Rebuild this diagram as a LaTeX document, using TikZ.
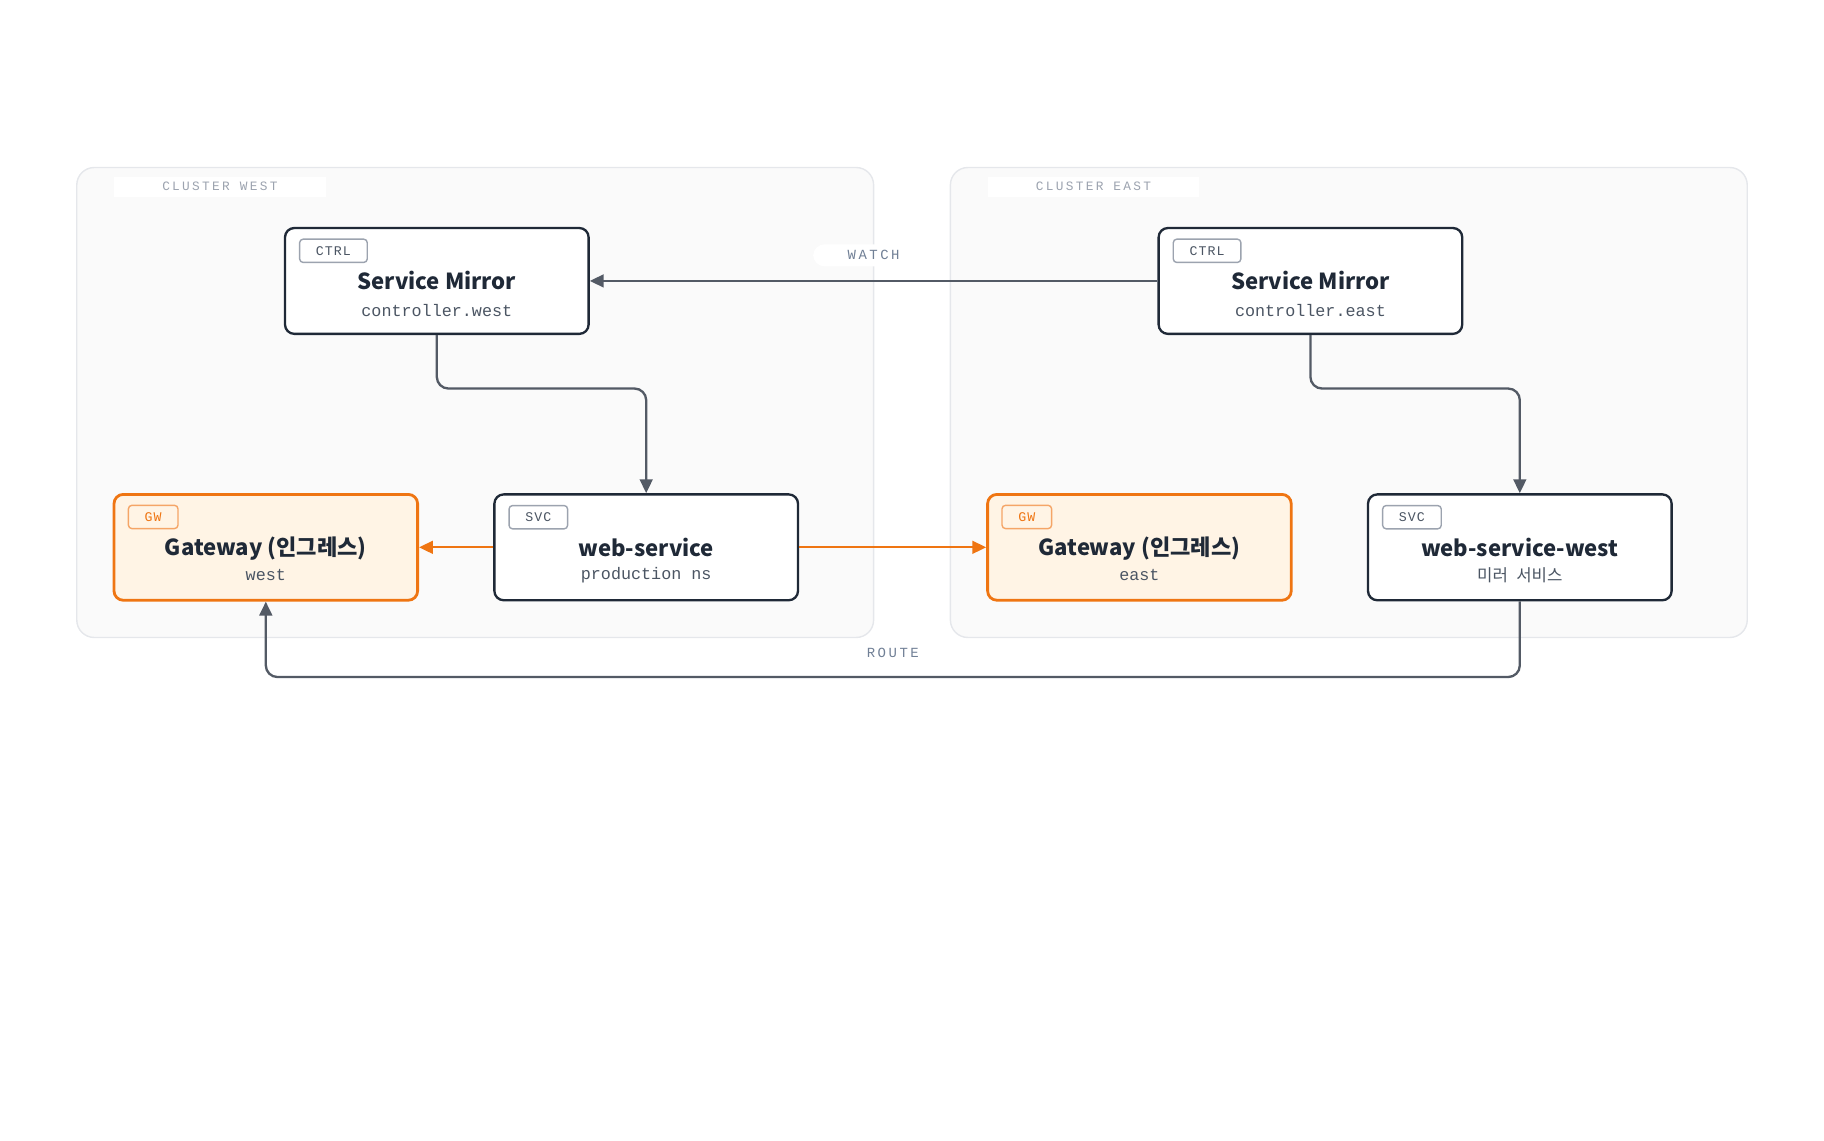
\documentclass[tikz,border=0pt]{standalone}
\usepackage{fontspec}
\setmainfont{Noto Sans}
\setmonofont{Liberation Mono}
\newfontfamily\cjkfont{Noto Sans CJK KR}
\newfontfamily\spacedmono[LetterSpace=18]{Liberation Mono}
\newfontfamily\tagmono[LetterSpace=8]{Liberation Mono}
\usepackage{tikz}
\usetikzlibrary{arrows.meta, positioning, backgrounds}

\definecolor{inkdark}{HTML}{1F2937}
\definecolor{inkgray}{HTML}{4B5563}
\definecolor{wiregray}{HTML}{535A65}
\definecolor{clusterfill}{HTML}{FAFAFA}
\definecolor{clusterline}{HTML}{E5E7EB}
\definecolor{labelgray}{HTML}{9CA3AF}
\definecolor{edgegray}{HTML}{718096}
\definecolor{gworange}{HTML}{EF7512}
\definecolor{gwfill}{HTML}{FFF4E5}
\definecolor{gwtagline}{HTML}{F5A567}
\definecolor{tagline}{HTML}{9CA3AF}

\tikzset{
  cluster/.style={draw=clusterline, fill=clusterfill, line width=0.6pt, rounded corners=7.5pt},
  clusterlabel/.style={fill=white, text=labelgray, font=\spacedmono\fontsize{5.5}{6}\selectfont,
    minimum width=91pt, minimum height=8.5pt, inner sep=0pt},
  svcbox/.style={draw=inkdark, fill=white, line width=1pt, rounded corners=4pt,
    minimum width=130.5pt, minimum height=45.5pt, inner sep=0pt},
  gwbox/.style={svcbox, draw=gworange, fill=gwfill, line width=1.2pt},
  tagbox/.style={draw=tagline, fill=white, rounded corners=1.5pt, line width=0.6pt, text=inkgray,
    font=\tagmono\fontsize{5.7}{6}\selectfont, minimum height=10pt, inner xsep=7pt, inner ysep=0pt},
  gwtag/.style={tagbox, draw=gwtagline, fill=gwfill, text=gworange},
  titletext/.style={font=\cjkfont\bfseries\fontsize{9.5}{11}\selectfont, text=inkdark, inner sep=0pt},
  subtext/.style={font=\ttfamily\fontsize{7.2}{8}\selectfont, text=inkgray, inner sep=0pt},
  wire/.style={draw=wiregray, line width=1pt, rounded corners=5pt, -{Triangle[length=6pt,width=5.5pt]}},
  gwwire/.style={wire, draw=gworange},
  edgelabel/.style={font=\spacedmono\fontsize{6}{7}\selectfont, text=edgegray, inner sep=0pt,
    minimum width=52pt, minimum height=9.5pt},
}

\begin{document}
\begin{tikzpicture}[x=0.5pt, y=-0.5pt]
  \useasboundingbox (0,0) rectangle (1568,980);

  % clusters
  \draw[cluster] (66,144) rectangle (751,548);
  \draw[cluster] (817,144) rectangle (1502,548);
  \node[clusterlabel] (west-label) at (189,160.5) {CLUSTER WEST};
  \node[clusterlabel] (east-label) at (940,160.5) {CLUSTER EAST};

  % service mirrors
  \node[svcbox] (smw) at (375.5,241.5) {};
  \node[svcbox] (sme) at (1126.5,241.5) {};
  % bottom row
  \node[gwbox] (gww) at (228.5,470.5) {};
  \node[svcbox] (wsv) at (555.5,470.5) {};
  \node[gwbox] (gwe) at (979.5,470.5) {};
  \node[svcbox] (wsw) at (1306.5,470.5) {};

  % tags
  \node[tagbox, below right=5pt and 6.5pt of smw.north west] (smw-tag) {CTRL};
  \node[tagbox, below right=5pt and 6.5pt of sme.north west] (sme-tag) {CTRL};
  \node[gwtag, below right=5pt and 6.5pt of gww.north west] (gww-tag) {GW};
  \node[tagbox, below right=5pt and 6.5pt of wsv.north west] (wsv-tag) {SVC};
  \node[gwtag, below right=5pt and 6.5pt of gwe.north west] (gwe-tag) {GW};
  \node[tagbox, below right=5pt and 6.5pt of wsw.north west] (wsw-tag) {SVC};

  % titles
  \node[titletext] (smw-title) at (smw.center) {Service Mirror};
  \node[titletext] (sme-title) at (sme.center) {Service Mirror};
  \node[titletext] (gww-title) at ([yshift=-0.5pt]gww.center) {Gateway (인그레스)};
  \node[titletext] (wsv-title) at (wsv.center) {web-service};
  \node[titletext] (gwe-title) at ([yshift=-0.5pt]gwe.center) {Gateway (인그레스)};
  \node[titletext] (wsw-title) at (wsw.center) {web-service-west};

  \node[subtext] (smw-sub) at ([yshift=-12.5pt]smw.center) {controller.west};
  \node[subtext] (sme-sub) at ([yshift=-12.5pt]sme.center) {controller.east};
  \node[subtext] (gww-sub) at ([yshift=-12pt]gww.center) {west};
  \node[subtext] (wsv-sub) at ([yshift=-12pt]wsv.center) {production ns};
  \node[subtext] (gwe-sub) at ([yshift=-12pt]gwe.center) {east};
  \node[subtext] (wsw-sub) at ([yshift=-12pt]wsw.center) {\cjkfont 미러\hspace{2pt} 서비스};

  % connectors
  \draw[wire] (sme.west) -- node[edgelabel, fill=white, yshift=11pt] (watch) {WATCH} (smw.east);
  \draw[wire] (smw.south) -- ++(0,46) -| (wsv.north);
  \draw[wire] (sme.south) -- ++(0,46) -| (wsw.north);
  \draw[gwwire] (wsv.west) -- (gww.east);
  \draw[gwwire] (wsv.east) -- (gwe.west);
  \draw[wire] (wsw.south) -- ++(0,65) -| node[pos=0.25, edgelabel, yshift=10.5pt] (route) {ROUTE} (gww.south);
\end{tikzpicture}
\end{document}
